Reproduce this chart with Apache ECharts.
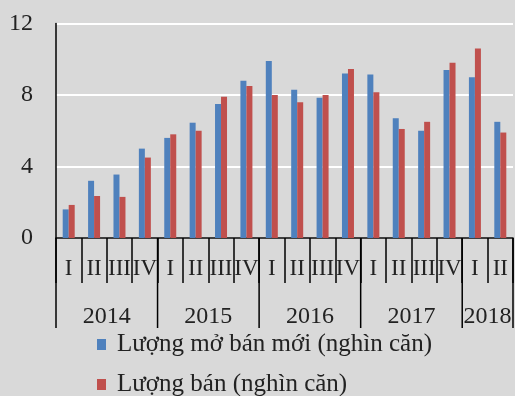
<!DOCTYPE html>
<html>
<head>
<meta charset="utf-8">
<script src="https://cdn.jsdelivr.net/npm/echarts@6/dist/echarts.min.js"></script>
<style>
  html, body { margin: 0; padding: 0; background: #d9d9d9; }
  #chart { width: 515px; height: 396px; }
</style>
</head>
<body>
<div id="chart"></div>
<script>
// Quarterly new supply vs. sales, 2014 – Q2 2018
const years = ['2014', '2015', '2016', '2017', '2018'];
const quartersPerYear = [4, 4, 4, 4, 2];
const quarterNames = ['I', 'II', 'III', 'IV'];

const seriesNames = ['Lượng mở bán mới (nghìn căn)', 'Lượng bán (nghìn căn)'];
const newSupply = [1.6, 3.2, 3.55, 5.0, 5.6, 6.45, 7.5, 8.8, 9.9, 8.3, 7.85, 9.2, 9.15, 6.7, 6.0, 9.4, 9.0, 6.5];
const sold      = [1.85, 2.35, 2.3, 4.5, 5.8, 6.0, 7.9, 8.5, 8.0, 7.6, 8.0, 9.45, 8.15, 6.1, 6.5, 9.8, 10.6, 5.9];

const yTicks = [0, 4, 8, 12];

// one category per quarter; year group boundaries and centres on the same scale
const categories = [];
const yearBounds = [0];
const yearCentres = [];
const centreToYear = {};
quartersPerYear.forEach((n, i) => {
  const start = yearBounds[yearBounds.length - 1];
  for (let q = 0; q < n; q++) categories.push(quarterNames[q]);
  yearBounds.push(start + n);
  const c = start + n / 2;
  yearCentres.push(c);
  centreToYear[c] = years[i];
});

const serif = '"Liberation Serif", "Times New Roman", serif';
const YEAR_DIVIDER_LEN = 90;
const chart = echarts.init(document.getElementById('chart'), null, { renderer: 'canvas' });

chart.setOption({
  backgroundColor: '#d9d9d9',
  animation: false,
  color: ['#4f81bd', '#c0504d'],
  grid: { left: 56, right: 2, top: 23.5, bottom: 158, containLabel: false },
  legend: {
    orient: 'vertical',
    left: 92,
    top: 327,
    height: 120,
    itemWidth: 9,
    itemHeight: 11,
    itemGap: 15,
    icon: 'rect',
    textStyle: { fontFamily: serif, fontSize: 25, color: '#222', padding: [0, 0, 0, 6] },
    data: seriesNames
  },
  xAxis: [
    {
      // quarter row
      type: 'category',
      data: categories,
      boundaryGap: true,
      axisLine: { lineStyle: { color: '#000', width: 1.5 } },
      axisTick: { show: true, interval: 0, length: 45, lineStyle: { color: '#000', width: 1.5 } },
      axisLabel: { interval: 0, margin: 19, fontFamily: serif, fontSize: 23, color: '#222' }
    },
    {
      // year row (labels only; dividers drawn by the custom series)
      type: 'value',
      position: 'bottom',
      min: 0,
      max: categories.length,
      axisLine: { show: false },
      splitLine: { show: false },
      axisTick: { show: false },
      axisLabel: {
        customValues: yearCentres,
        margin: 67,
        fontFamily: serif,
        fontSize: 24,
        color: '#222',
        formatter: v => centreToYear[v] || ''
      }
    }
  ],
  yAxis: {
    type: 'value',
    min: yTicks[0],
    max: yTicks[yTicks.length - 1],
    interval: yTicks[1] - yTicks[0],
    axisLine: { show: true, lineStyle: { color: '#000', width: 1.5 } },
    axisTick: { show: false },
    splitLine: { lineStyle: { color: '#ffffff', width: 2 } },
    axisLabel: { margin: 23, fontFamily: serif, fontSize: 24, color: '#222' }
  },
  series: [
    { name: seriesNames[0], type: 'bar', data: newSupply, barWidth: 6, barGap: '0%', itemStyle: { color: '#4f81bd' } },
    { name: seriesNames[1], type: 'bar', data: sold, barWidth: 6, barGap: '0%', itemStyle: { color: '#c0504d' } },
    {
      // long dividers between year groups
      name: 'yearDividers',
      type: 'custom',
      xAxisIndex: 1,
      yAxisIndex: 0,
      clip: false,
      silent: true,
      z: 5,
      data: yearBounds.map(b => [b, 0]),
      renderItem: (params, api) => {
        const p = api.coord([api.value(0), 0]);
        return {
          type: 'line',
          shape: { x1: p[0], y1: p[1], x2: p[0], y2: p[1] + YEAR_DIVIDER_LEN },
          style: { stroke: '#000', lineWidth: 1.5 }
        };
      }
    }
  ]
});
</script>
</body>
</html>
